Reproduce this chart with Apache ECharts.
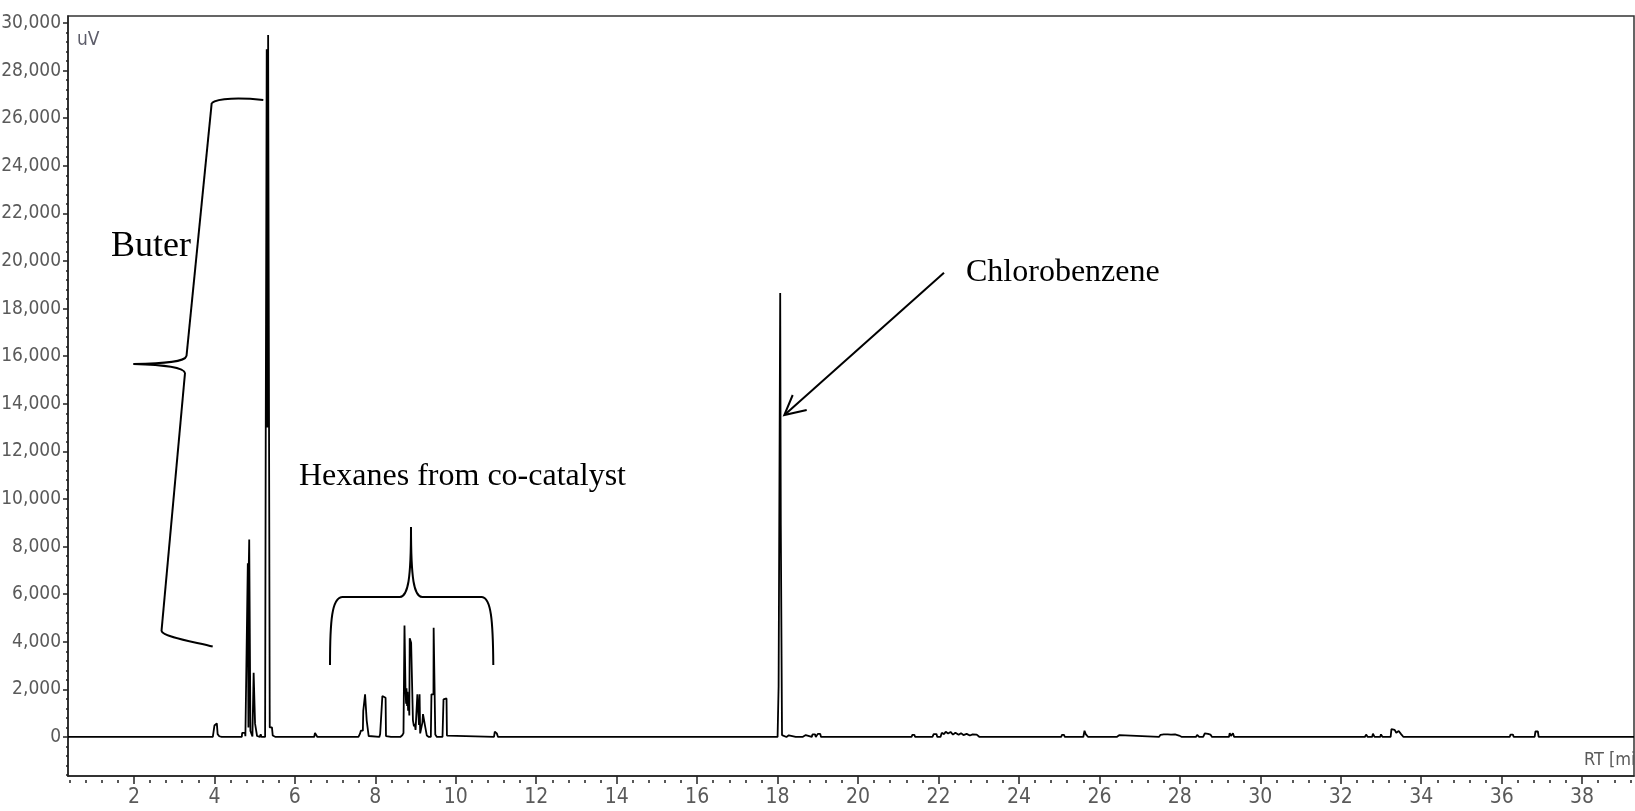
<!DOCTYPE html>
<html>
<head>
<meta charset="utf-8">
<script src="https://cdn.jsdelivr.net/npm/echarts@6/dist/echarts.min.js"></script>
<style>
html,body{margin:0;padding:0;background:#fff;}
#chart{width:1635px;height:811px;}
</style>
</head>
<body>
<div id="chart"></div>
<script>
// ---------- DATA ----------
// retention time [min], signal [uV]
const buteneTrace = [
  [3.96,0],[3.99,60],[4.00,480],[4.02,560],[4.06,570],[4.08,120],[4.12,30],[4.18,0],
  [4.68,0],[4.69,170],[4.76,170],[4.77,30],[4.81,0],
  [4.83,7300],[4.845,400],[4.855,7300],[4.865,8300],[4.885,8300],[4.895,250],[4.93,250],[4.945,20],
  [4.975,2700],[5.005,2700],[5.01,560],[5.05,560],[5.06,40],[5.13,0],[5.15,110],[5.17,0],
  [5.26,0],[5.275,12300],[5.295,12300],[5.30,28900],[5.31,13000],[5.32,28900],[5.33,13000],
  [5.335,29500],[5.36,29500],[5.375,400],[5.43,400],[5.45,60],[5.52,0],
  [6.48,0],[6.50,170],[6.53,150],[6.56,0]
];
const hexaneTrace = [
  [7.44,0],[7.47,70],[7.50,0],
  [7.58,0],[7.62,140],[7.64,265],[7.69,265],[7.70,1100],[7.73,1100],[7.745,1790],[7.775,1790],
  [7.785,700],[7.82,700],[7.835,40],[7.88,0],
  [8.10,0],[8.12,120],[8.165,120],[8.175,1720],[8.215,1720],[8.22,1650],[8.255,1650],[8.265,40],[8.30,0],
  [8.39,0],[8.41,60],[8.43,0],
  [8.62,0],[8.67,70],[8.70,160],[8.725,4680],[8.745,4680],[8.75,2000],[8.765,1400],[8.775,2050],
  [8.79,1300],[8.80,1900],[8.815,1100],[8.83,1600],[8.845,900],[8.855,4150],[8.885,4150],
  [8.89,3960],[8.925,3960],[8.935,700],[8.96,450],[8.98,550],[9.00,300],[9.035,300],
  [9.045,1790],[9.075,1790],[9.085,500],[9.10,1790],[9.115,150],[9.15,120],[9.17,600],
  [9.185,960],[9.225,960],[9.235,480],[9.27,480],[9.28,60],[9.33,0],
  [9.38,0],[9.395,1790],[9.445,1790],[9.45,4590],[9.48,4590],[9.49,100],[9.51,140],[9.53,0],
  [9.67,0],[9.695,1580],[9.73,1580],[9.735,1620],[9.77,1620],[9.78,60],[9.82,0],
  [10.95,0],[10.97,220],[11.02,150],[11.05,0]
];
const chlorobenzeneTrace = [
  [18.00,0],[18.025,2110],[18.06,2110],[18.065,18650],[18.075,18650],[18.08,8900],[18.105,8900],
  [18.11,80],[18.15,0]
];
const minorTrace = [
  [18.22,0],[18.24,70],[18.28,70],[18.30,0],[18.45,0],[18.47,60],[18.50,0],[18.62,0],[18.64,80],
  [18.70,80],[18.72,0],[18.85,0],[18.87,110],[18.93,110],[18.95,0],[19.00,130],[19.06,130],[19.08,0],
  [21.33,0],[21.35,90],[21.40,90],[21.42,0],[21.60,0],[21.62,70],[21.66,0],[21.85,0],[21.88,120],
  [21.95,120],[21.97,0],[22.05,0],[22.08,170],[22.14,120],[22.18,220],[22.24,150],[22.30,210],
  [22.36,100],[22.42,180],[22.50,90],[22.56,160],[22.62,80],[22.70,130],[22.78,60],[22.85,110],
  [22.95,100],[23.02,0],[23.35,0],[23.37,60],[23.39,0],
  [23.93,0],[23.95,50],[23.97,0],
  [24.85,0],[24.87,80],[24.91,0],[25.05,0],[25.07,90],[25.12,90],[25.14,0],
  [25.60,0],[25.63,260],[25.66,120],[25.72,0],
  [26.43,0],[26.45,80],[26.50,80],[26.52,0],
  [27.48,0],[27.52,90],[27.60,110],[27.70,110],[27.78,100],[27.88,110],[27.98,60],[28.05,0],
  [28.40,0],[28.43,90],[28.48,0],[28.58,0],[28.62,150],[28.66,220],[28.70,130],[28.76,100],[28.80,0],
  [29.22,0],[29.24,160],[29.27,40],[29.32,160],[29.35,0],
  [31.90,0],[31.93,60],[31.97,0],[32.20,0],[32.23,70],[32.28,0],[32.60,0],[32.63,100],[32.67,0],
  [32.78,0],[32.80,140],[32.84,0],[32.98,0],[33.00,110],[33.04,0],
  [33.24,0],[33.26,330],[33.34,300],[33.38,180],[33.44,250],[33.50,120],[33.56,0],
  [35.70,0],[35.72,60],[35.74,0],[36.20,0],[36.22,100],[36.28,100],[36.30,0],
  [36.82,0],[36.84,230],[36.90,230],[36.92,0]
];
const xTickValues = [2,4,6,8,10,12,14,16,18,20,22,24,26,28,30,32,34,36,38];
const yTickValues = [0,2000,4000,6000,8000,10000,12000,14000,16000,18000,20000,22000,24000,26000,28000,30000];
const annotationLabels = {butene:'Buter', hexanes:'Hexanes from co-catalyst', chloro:'Chlorobenzene'};

// ---------- AXIS RANGES ----------
const X_MIN = 0.36, X_MAX = 39.29;
const Y_MIN = -1640, Y_MAX = 30294;

const xMinor = [];
for (let i = 1; i * 0.4 < X_MAX; i++) xMinor.push(+(i * 0.4).toFixed(1));
const yMinor = [];
for (let v = -1600; v <= 30000; v += 400) yMinor.push(v);

const trace = [[X_MIN,0]].concat(buteneTrace, hexaneTrace, chlorobenzeneTrace, minorTrace, [[X_MAX,0]]);

const LABEL_FONT = '"Liberation Sans Narrow","Arial Narrow","DejaVu Sans Condensed","Liberation Sans",sans-serif';
const SERIF = '"Liberation Serif","Times New Roman",serif';
const AX = '#222';

// ---------- annotation drawing helpers (decorations, pixel space) ----------
const penStyle = {stroke:'#000', lineWidth:2, fill:'none'};
function bez(p) { // [x1,y1,cx1,cy1,cx2,cy2,x2,y2]
  return {type:'bezierCurve', shape:{x1:p[0],y1:p[1],cpx1:p[2],cpy1:p[3],cpx2:p[4],cpy2:p[5],x2:p[6],y2:p[7]}, style:penStyle};
}
function seg(p) {
  return {type:'line', shape:{x1:p[0],y1:p[1],x2:p[2],y2:p[3]}, style:penStyle};
}
const buteneBrace = [
  bez([263.3,100, 240,97.5, 218,98, 211.7,103]),
  seg([211.7,103, 186.5,356]),
  bez([186.5,356, 185,362, 165,363.5, 133.5,364]),
  bez([133.5,364, 165,365, 184,367, 185,373]),
  seg([185,373, 161.5,631]),
  bez([161.5,631, 163,637, 195,642, 212.7,646.5])
];
const hexaneBrace = [
  bez([330,665, 330,620, 332,598, 342,597]),
  seg([342,597, 400,597]),
  bez([400,597, 408,596, 411,580, 411,527]),
  bez([411,527, 411,580, 414,596, 422,597]),
  seg([422,597, 482,597]),
  bez([482,597, 491,598, 493,620, 493.3,665])
];
const arrow = [
  seg([944,272.7, 785,414.5]),
  {type:'polyline', shape:{points:[[792.7,395],[784.3,415],[806.7,410]]}, style:penStyle}
];

const option = {
  animation: false,
  backgroundColor: '#fff',
  grid: {left: 68, right: 1, top: 16, bottom: 35, containLabel:false, outerBoundsMode:'none',
         show: true, borderColor: '#333', borderWidth: 1.5, backgroundColor: 'transparent'},
  xAxis: [
    {type:'value', min:X_MIN, max:X_MAX, position:'bottom',
     axisLine:{show:true, onZero:false, lineStyle:{color:AX, width:1.5}},
     axisTick:{show:true, customValues:xTickValues, length:8, lineStyle:{color:AX, width:1.5}},
     axisLabel:{show:true, customValues:xTickValues, color:'#5a5a5a', fontFamily:LABEL_FONT, fontSize:21, margin:11},
     splitLine:{show:false}},
    {type:'value', min:X_MIN, max:X_MAX, position:'bottom', offset:4,
     axisLine:{show:false, onZero:false},
     axisTick:{show:true, customValues:xMinor, length:3, lineStyle:{color:AX, width:1.5}},
     axisLabel:{show:false}, splitLine:{show:false}}
  ],
  yAxis: [
    {type:'value', min:Y_MIN, max:Y_MAX, position:'left',
     axisLine:{show:true, onZero:false, lineStyle:{color:AX, width:1.5}},
     axisTick:{show:true, customValues:yTickValues, length:5, lineStyle:{color:AX, width:1.5}},
     axisLabel:{show:true, customValues:yTickValues, color:'#5a5a5a', fontFamily:LABEL_FONT, fontSize:19, margin:7,
       formatter: v => v.toLocaleString('en-US')},
     splitLine:{show:false}},
    {type:'value', min:Y_MIN, max:Y_MAX, position:'left', offset:0,
     axisLine:{show:false, onZero:false},
     axisTick:{show:true, customValues:yMinor, length:2, lineStyle:{color:AX, width:1.5}},
     axisLabel:{show:false}, splitLine:{show:false}}
  ],
  series: [{
    type:'line', xAxisIndex:0, yAxisIndex:0, data: trace,
    showSymbol:false, symbol:'none', clip:true,
    lineStyle:{color:'#000', width:1.8}
  }],
  graphic: [
    {type:'text', x:77, y:40, style:{text:'uV', fill:'#5d5d6a', fontFamily:LABEL_FONT, fontSize:19, verticalAlign:'middle'}},
    {type:'text', x:1584, y:760, style:{text:'RT [min]', fill:'#5a5a5a', fontFamily:LABEL_FONT, fontSize:18, verticalAlign:'middle'}},
    {type:'text', x:111, y:247, style:{text:annotationLabels.butene, fill:'#000', fontFamily:SERIF, fontSize:36, verticalAlign:'middle'}},
    {type:'text', x:299, y:477, style:{text:annotationLabels.hexanes, fill:'#000', fontFamily:SERIF, fontSize:32, verticalAlign:'middle'}},
    {type:'text', x:966, y:273, style:{text:annotationLabels.chloro, fill:'#000', fontFamily:SERIF, fontSize:32, verticalAlign:'middle'}}
  ].concat(buteneBrace, hexaneBrace, arrow)
};

const chart = echarts.init(document.getElementById('chart'), null, {renderer:'canvas'});
chart.setOption(option);
</script>
</body>
</html>
